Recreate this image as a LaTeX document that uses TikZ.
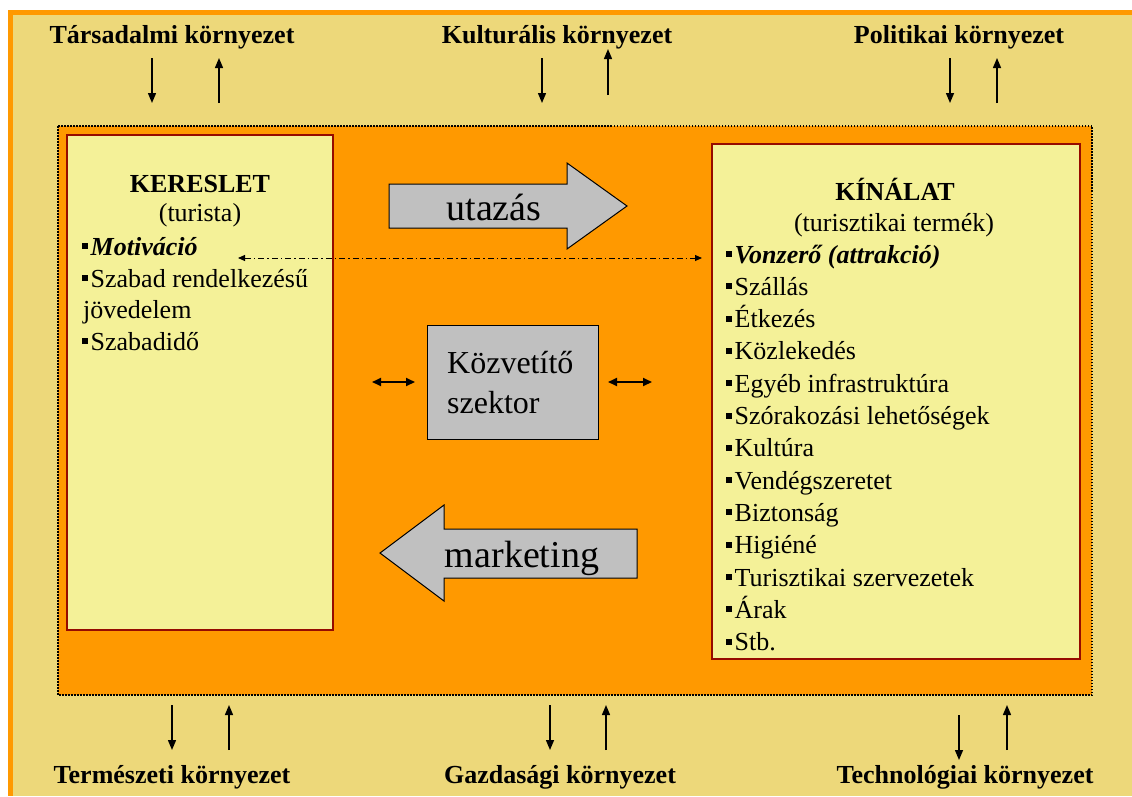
\documentclass[tikz,border=0pt]{standalone}
\usepackage{fontspec}
\setmainfont{Liberation Serif}
\usetikzlibrary{arrows.meta}
\definecolor{bgyellow}{RGB}{237,216,122}
\definecolor{frameorange}{RGB}{255,153,0}
\definecolor{boxyellow}{RGB}{244,241,152}
\definecolor{boxred}{RGB}{150,10,0}
\definecolor{arrgray}{RGB}{192,192,192}
\newcommand{\sqbul}{\rule[6pt]{6pt}{6pt}\hspace{2.5pt}}
\begin{document}
\begin{tikzpicture}[x=1pt,y=-1pt,
  envlabel/.style={inner sep=0pt,anchor=base,font=\fontsize{26}{30}\selectfont\bfseries},
  envarrow/.style={line width=1.4pt,-{Triangle[width=8pt,length=10pt]}},
  panel/.style={draw=boxred,line width=2.5pt,fill=boxyellow,inner sep=0pt},
  listtext/.style={inner sep=0pt,anchor=base west,font=\fontsize{26}{32}\selectfont},
  titletext/.style={inner sep=0pt,anchor=base,font=\fontsize{26}{32}\selectfont},
  grayshape/.style={draw=black,line width=1pt,fill=arrgray},
  bigtext/.style={inner sep=0pt,anchor=base,font=\fontsize{38}{40}\selectfont},
  midtext/.style={inner sep=0pt,anchor=base west,font=\fontsize{32}{40}\selectfont},
  twoway/.style={line width=1.8pt,{Triangle[width=8pt,length=9pt]}-{Triangle[width=8pt,length=9pt]}},
  dashdot/.style={line width=1pt,dash pattern=on 6pt off 3pt on 1.5pt off 3pt,{Triangle[width=6pt,length=7pt]}-{Triangle[width=6pt,length=7pt]}}
]
\useasboundingbox (0,0) rectangle (1132,796);
\fill[white] (0,0) rectangle (1132,796);
\fill[bgyellow] (8,10) rectangle (1132,796);
\fill[frameorange] (8,10) rectangle (1132,14.5);
\fill[frameorange] (8,10) rectangle (12.5,796);

% inner system area
\draw[fill=frameorange,line width=1.5pt,dash pattern=on 1.5pt off 1.5pt] (58,126) rectangle (1092,695);

% environment labels
\node[envlabel] (tars) at (172,43) {Társadalmi környezet};
\node[envlabel] (kult) at (557,43) {Kulturális környezet};
\node[envlabel] (poli) at (959,43) {Politikai környezet};
\node[envlabel] (term) at (172,783) {Természeti környezet};
\node[envlabel] (gazd) at (560,783) {Gazdasági környezet};
\node[envlabel] (tech) at (965,783) {Technológiai környezet};

% environment arrow end points
\coordinate (a1s) at (152,58);  \coordinate (a1e) at (152,103);
\coordinate (a2s) at (219,103); \coordinate (a2e) at (219,58);
\coordinate (a3s) at (542,58);  \coordinate (a3e) at (542,103);
\coordinate (a4s) at (608,95);  \coordinate (a4e) at (608,49);
\coordinate (a5s) at (950,58);  \coordinate (a5e) at (950,103);
\coordinate (a6s) at (997,103); \coordinate (a6e) at (997,58);
\coordinate (b1s) at (172,705); \coordinate (b1e) at (172,750);
\coordinate (b2s) at (229,750); \coordinate (b2e) at (229,705);
\coordinate (b3s) at (550,705); \coordinate (b3e) at (550,750);
\coordinate (b4s) at (606,750); \coordinate (b4e) at (606,705);
\coordinate (b5s) at (959,715); \coordinate (b5e) at (959,760);
\coordinate (b6s) at (1007,750); \coordinate (b6e) at (1007,705);
\foreach \p in {a1,a2,a3,a4,a5,a6,b1,b2,b3,b4,b5,b6}
  \draw[envarrow] (\p s) -- (\p e);

% demand box
\node[panel,minimum width=266pt,minimum height=495pt] (demand) at (200,382.5) {};
\node[titletext,font=\fontsize{26}{32}\selectfont\bfseries] (dtitle) at (200,192) {KERESLET};
\node[titletext] (dsub) at (200,221) {(turista)};
\node[listtext] (d1) at (82,255) {\sqbul\textbf{\textit{Motiváció}}};
\node[listtext] (d2) at (82,287) {\sqbul Szabad rendelkezésű};
\node[listtext] (d3) at (83,318.5) {jövedelem};
\node[listtext] (d4) at (82,350) {\sqbul Szabadidő};

% supply box
\node[panel,minimum width=368pt,minimum height=515pt] (supply) at (896,401.5) {};
\node[titletext,font=\fontsize{26}{32}\selectfont\bfseries] (stitle) at (895,200) {KÍNÁLAT};
\node[titletext] (ssub) at (894,231) {(turisztikai termék)};
\node[listtext] (s1) at (726,263) {\sqbul\textbf{\textit{Vonzerő (attrakció)}}};
\node[listtext] (s2) at (726,295.3) {\sqbul Szállás};
\node[listtext] (s3) at (726,327.6) {\sqbul Étkezés};
\node[listtext] (s4) at (726,359.9) {\sqbul Közlekedés};
\node[listtext] (s5) at (726,392.2) {\sqbul Egyéb infrastruktúra};
\node[listtext] (s6) at (726,424.5) {\sqbul Szórakozási lehetőségek};
\node[listtext] (s7) at (726,456.8) {\sqbul Kultúra};
\node[listtext] (s8) at (726,489.1) {\sqbul Vendégszeretet};
\node[listtext] (s9) at (726,521.4) {\sqbul Biztonság};
\node[listtext] (s10) at (726,553.7) {\sqbul Higiéné};
\node[listtext] (s11) at (726,586) {\sqbul Turisztikai szervezetek};
\node[listtext] (s12) at (726,618.3) {\sqbul Árak};
\node[listtext] (s13) at (726,650.6) {\sqbul Stb.};

% travel arrow
\draw[grayshape] (389,184) -- (567,184) -- (567,163) -- (627,206) -- (567,249) -- (567,228) -- (389,228) -- cycle;
\node[bigtext] (travel) at (494,220) {utazás};

% marketing arrow
\draw[grayshape] (637,529) -- (444,529) -- (444,505) -- (380,553) -- (444,601) -- (444,578) -- (637,578) -- cycle;
\node[bigtext] (mkt) at (522,567) {marketing};

% intermediary box
\node[grayshape,minimum width=171pt,minimum height=114pt,inner sep=0pt] (inter) at (512.5,382) {};
\node[midtext] (int1) at (447,373) {Közvetítő};
\node[midtext] (int2) at (447,413) {szektor};

% two-way arrows
\coordinate (lw1) at (372,382); \coordinate (lw2) at (415,382);
\coordinate (rw1) at (608,382); \coordinate (rw2) at (652,382);
\draw[twoway] (lw1) -- (lw2);
\draw[twoway] (rw1) -- (rw2);

% motivation - attraction link
\coordinate (mot) at (238,258);
\coordinate (vonz) at (702,258);
\draw[dashdot] (mot) -- (vonz);
\end{tikzpicture}
\end{document}
